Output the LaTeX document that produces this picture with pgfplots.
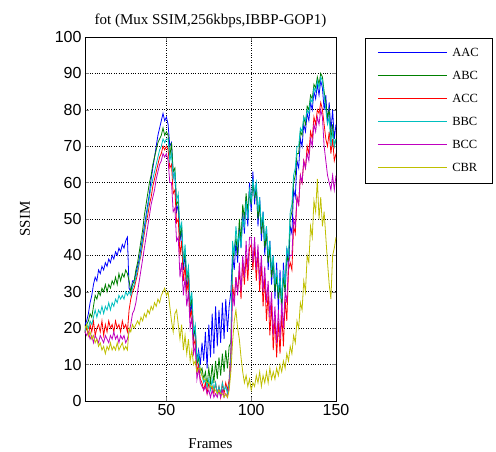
\documentclass[border=0pt]{standalone}
\usepackage{fontspec}
\setmainfont{Liberation Serif}
\newfontfamily\arial{Liberation Sans}
\usepackage{pgfplots}
\usepackage{pgfplotstable}
\pgfplotsset{compat=1.18}

\definecolor{mgreen}{rgb}{0,0.5,0}
\definecolor{mcyan}{rgb}{0,0.75,0.75}
\definecolor{mmag}{rgb}{0.75,0,0.75}
\definecolor{myel}{rgb}{0.75,0.75,0}

\pgfplotstableread{
f AAC ABC ACC BBC BCC CBR
1 20 20 21 20 20 22
2 21 19 19 19 19 20
3 22 21 20 21 18 21
4 24 22 18 20 19 18
5 27 24 21 22 17 19
6 29 23 19 21 18 17
7 32 26 22 23 16 18
8 34 29 18 25 18 16
9 33 28 20 23 17 17
10 36 30 21 25 16 15
11 35 29 19 24 18 16
12 37 31 22 26 17 14
13 36 30 18 24 16 15
14 38 32 21 26 18 13
15 37 30 19 25 17 15
16 39 32 22 27 16 14
17 38 31 20 25 18 16
18 40 33 21 27 17 14
19 39 32 19 26 19 15
20 41 34 22 28 17 14
21 40 32 20 27 18 16
22 42 35 21 29 16 14
23 41 33 19 28 18 15
24 43 35 22 29 17 16
25 42 34 20 28 18 14
26 44 36 21 30 16 15
27 45 35 19 29 17 14
28 31 33 25 30 19 20
29 30 30 28 29 21 19
30 33 32 30 31 24 21
31 33 33 31 32 25 20
32 35 36 33 34 27 21
33 37 38 35 36 30 22
34 39 41 38 38 33 21
35 42 44 40 41 36 23
36 45 47 43 44 39 22
37 48 51 46 47 42 24
38 51 54 49 50 45 23
39 54 57 51 53 48 25
40 57 60 54 56 51 24
41 61 62 56 59 54 26
42 64 65 59 61 56 25
43 67 67 61 63 58 27
44 70 69 63 65 61 26
45 73 71 65 67 63 28
46 75 72 67 69 65 27
47 77 73 68 70 66 29
48 79 75 70 72 68 30
49 77 73 69 71 67 31
50 78 74 70 72 68 29
51 76 73 69 72 66 30
52 70 67 64 66 60 26
53 71 71 65 68 60 22
54 62 63 57 61 52 19
55 62 64 58 63 53 24
56 52 54 49 55 44 25
57 54 55 50 57 45 21
58 44 45 40 47 34 17
59 47 48 44 49 38 21
60 36 38 33 38 29 14
61 40 41 37 43 34 18
62 31 33 30 34 26 13
63 34 36 33 37 30 17
64 24 26 23 27 20 11
65 27 28 25 30 23 14
66 17 18 15 19 13 10
67 20 20 17 21 15 11
68 11 10 8 11 6 8
69 14 12 10 13 9 9
70 10 8 6 8 5 9
71 16 9 5 7 4 7
72 11 6 3 5 3 6
73 19 8 5 6 4 6
74 9 4 2 4 2 5
75 21 9 5 6 3 5
76 12 5 3 3 1 4
77 24 10 4 6 3 4
78 13 5 2 3 1 3
79 26 11 5 5 2 3
80 15 6 2 2 1 2
81 25 12 4 4 3 3
82 16 7 1 2 1 2
83 27 13 5 5 3 2
84 17 8 2 3 1 1
85 28 14 5 4 2 2
86 19 9 3 2 1 1
87 26 15 6 5 4 3
88 30 16 14 12 10 8
89 40 38 32 44 30 16
90 36 42 28 40 26 22
91 44 45 34 48 34 25
92 38 40 30 43 29 20
93 48 50 36 46 38 17
94 42 44 28 42 30 12
95 52 54 38 50 40 8
96 46 50 32 48 34 5
97 56 57 40 55 44 7
98 48 52 33 50 36 4
99 60 58 42 58 45 6
100 52 54 43 55 45 3
101 63 60 36 61 38 5
102 54 56 43 57 45 4
103 60 58 33 60 36 7
104 48 50 41 52 43 5
105 56 54 30 56 33 8
106 44 46 38 48 40 4
107 52 50 26 52 30 7
108 40 42 34 44 37 5
109 48 46 22 48 27 8
110 36 38 30 40 33 5
111 44 42 18 44 23 9
112 32 34 27 36 30 6
113 40 38 14 40 18 8
114 28 30 23 32 26 6
115 38 34 12 36 16 9
116 25 28 22 30 25 7
117 36 32 13 34 17 10
118 24 26 24 28 27 8
119 38 34 15 36 20 11
120 30 30 28 32 30 9
121 42 40 22 42 27 13
122 36 38 36 40 38 11
123 48 50 38 52 40 15
124 46 52 36 54 40 13
125 58 60 48 62 50 18
126 56 62 46 64 48 16
127 66 68 56 70 56 22
128 64 68 54 70 54 20
129 72 74 62 75 62 27
130 70 73 60 74 60 25
131 76 78 66 78 66 33
132 74 76 64 77 64 30
133 79 81 70 80 68 40
134 77 80 68 79 66 38
135 82 84 74 83 72 48
136 80 83 72 82 70 45
137 85 87 78 86 76 55
138 83 86 76 85 74 52
139 87 89 80 88 78 61
140 84 87 79 86 76 50
141 88 90 82 89 80 56
142 86 89 80 88 78 48
143 80 85 76 84 70 52
144 84 82 72 80 66 45
145 76 78 70 76 62 38
146 82 80 74 78 60 32
147 74 72 68 70 58 28
148 80 76 72 74 62 40
149 72 70 66 70 58 42
150 76 72 68 72 62 45
}\ssimdata

\begin{document}
\begin{tikzpicture}
\path[use as bounding box] (0pt,0pt) rectangle (496pt,452pt);
\begin{axis}[
  at={(85pt,51pt)}, anchor=south west,
  scale only axis, width=251pt, height=364pt,
  xmin=2, xmax=150, ymin=0, ymax=100,
  xtick={50,100,150}, ytick={0,10,...,100},
  tick align=inside,
  grid=major,
  major grid style={black, dotted, line width=0.6pt},
  axis line style={line width=0.6pt},
  /pgf/number format/assume math mode=true,
  tick label style={font=\arial\fontsize{16}{16}\selectfont},
  title={fot (Mux SSIM,256kbps,IBBP-GOP1)},
  title style={font=\fontsize{15}{15}\selectfont, at={(axis description cs:0.5,1)}, anchor=base, yshift=6pt},
  xlabel={Frames},
  xlabel style={font=\fontsize{15}{15}\selectfont, at={(axis description cs:0.5,-0.118)}, anchor=center},
  ylabel={SSIM},
  ylabel style={font=\fontsize{15}{15}\selectfont, at={(axis description cs:-0.239,0.5)}, anchor=center},
  legend cell align=left,
  legend style={at={(axis description cs:1.1155,0.997)}, anchor=north west,
    font=\fontsize{12.5}{12.5}\selectfont, draw=black, line width=0.6pt,
    inner xsep=12pt, inner ysep=8pt, row sep=9pt,
    nodes={text height=9pt, text depth=3pt, inner sep=1pt},
    /tikz/every odd column/.append style={column sep=4pt}},
  legend image code/.code={\path[draw=none, fill=none] (0pt,-6pt) rectangle (69pt,6pt);
    \draw[#1, line width=1pt] (0pt,1pt) -- (69pt,1pt);},
  every axis plot/.append style={line width=0.8pt},
]
\addplot[blue] table[x=f, y=AAC] {\ssimdata};
\addlegendentry{\makebox[27pt][l]{AAC}}
\addplot[mgreen] table[x=f, y=ABC] {\ssimdata};
\addlegendentry{\makebox[27pt][l]{ABC}}
\addplot[red] table[x=f, y=ACC] {\ssimdata};
\addlegendentry{\makebox[27pt][l]{ACC}}
\addplot[mcyan] table[x=f, y=BBC] {\ssimdata};
\addlegendentry{\makebox[27pt][l]{BBC}}
\addplot[mmag] table[x=f, y=BCC] {\ssimdata};
\addlegendentry{\makebox[27pt][l]{BCC}}
\addplot[myel] table[x=f, y=CBR] {\ssimdata};
\addlegendentry{\makebox[27pt][l]{CBR}}
\end{axis}
\end{tikzpicture}
\end{document}
